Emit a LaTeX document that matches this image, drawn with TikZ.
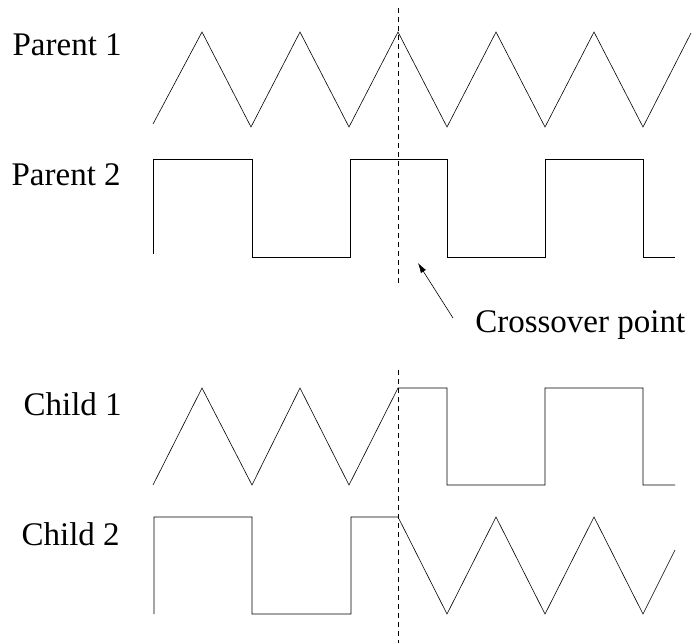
\documentclass[tikz,border=0pt]{standalone}
\usepackage{fontspec}
\setmainfont{Liberation Serif}
\usetikzlibrary{arrows.meta}
\begin{document}
\begin{tikzpicture}[x=1pt,y=-1pt,line width=0.6pt,
		lbl/.style={anchor=base east,inner sep=0pt,font=\fontsize{33}{40}\selectfont},
		cut/.style={dash pattern=on 5pt off 4pt}]
		\useasboundingbox (0,0) rectangle (692,643);
		% labels
		\node [lbl] (p1) at (122,55) {Parent 1};
		\node [lbl] (p2) at (121,185) {Parent 2};
		\node [lbl] (c1) at (122,415) {Child 1};
		\node [lbl] (c2) at (120,545) {Child 2};
		% parents
		\draw (153,124) -- (202,32) -- (251,127) -- (300,32) -- (349,127) -- (398,32) -- (447,127) -- (496,32) -- (545,127) -- (594,32) -- (643,127) -- (691,33);
		\draw (153,254) -- (153,159) -- (252,159) -- (252,257) -- (350,257) -- (350,159) -- (447,159) -- (447,257) -- (545,257) -- (545,159) -- (643,159) -- (643,257) -- (675,257);
		% children
		\draw (153,485) -- (202,388) -- (252,485) -- (300,388) -- (349,485) -- (398,388) -- (447,388) -- (447,485) -- (545,485) -- (545,388) -- (643,388) -- (643,485) -- (675,485);
		\draw (154,614) -- (154,517) -- (252,517) -- (252,614) -- (351,614) -- (351,517) -- (398,517) -- (447,614) -- (496,517) -- (545,614) -- (594,517) -- (643,614) -- (675,550);
		% crossover point
		\draw [cut] (398,8) -- (398,283);
		\draw [cut] (398,370) -- (398,643);
		\node [anchor=base west,inner sep=0pt,font=\fontsize{33}{40}\selectfont] (cp) at (475,332) {Crossover point};
		\coordinate (tail) at (453,318);
		\coordinate (tip) at (418,263);
		\draw [-{Latex[length=10pt,width=6pt]}] (tail) -- (tip);
\end{tikzpicture}
\end{document}
